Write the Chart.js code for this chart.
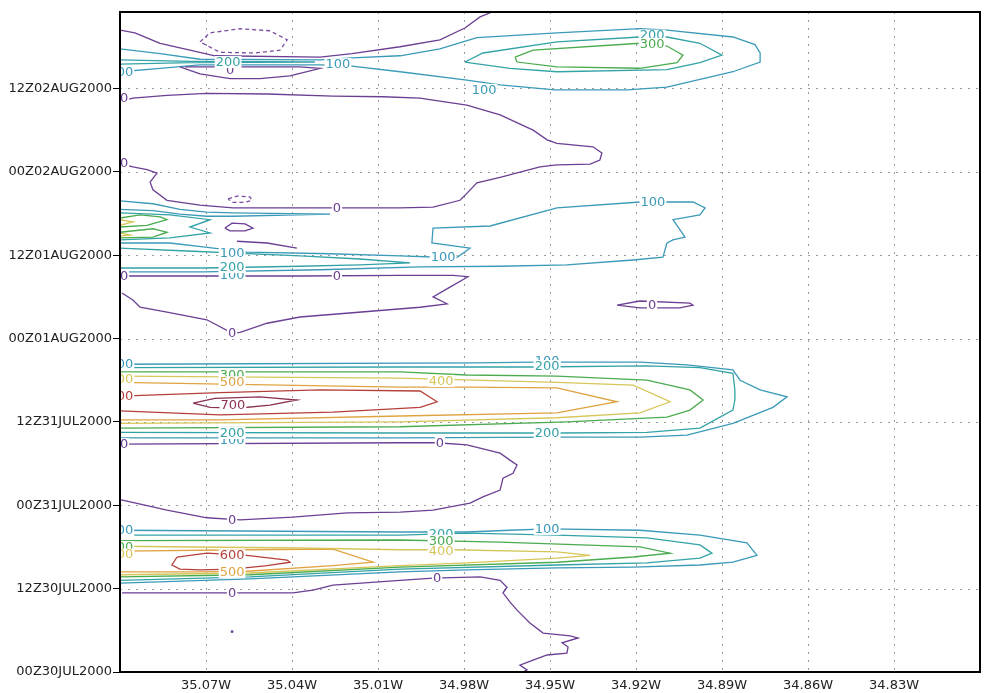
<!DOCTYPE html>
<html><head><meta charset="utf-8">
<script src="https://cdn.jsdelivr.net/npm/chart.js@4.4.1/dist/chart.umd.min.js"></script>
<style>html,body{margin:0;padding:0;background:#fff;} #wrap{width:984px;height:693px;}</style>
</head><body><div id="wrap"><canvas id="c" width="984" height="693"></canvas></div>
<script>
// Longitude in degrees west, time in hours after 00Z30JUL2000.
const lonTicks = [35.07,35.04,35.01,34.98,34.95,34.92,34.89,34.86,34.83];
const timeTicks = [0,12,24,36,48,60,72,84];
const timeLabels = ['00Z30JUL2000','12Z30JUL2000','00Z31JUL2000','12Z31JUL2000','00Z01AUG2000','12Z01AUG2000','00Z02AUG2000','12Z02AUG2000'];

// Contour polylines, [lonW, hour] pairs.
// 2 Aug, afternoon
const cTop0a = [[35.100,92.4],[35.0948,92.0],[35.0860,90.5],[35.0756,89.5],[35.0669,88.7],[35.0302,88.5],[35.0191,89.0],[35.0023,90.0],[34.9884,91.0],[34.9797,92.7],[34.9744,94.3],[34.9702,95.0]];
const cTop0b = [[35.0791,87.1],[35.0721,86.1],[35.0616,85.4],[35.0512,85.4],[35.0407,85.8],[35.0302,86.9],[35.0372,87.1],[35.0773,87.1]];
const cTopNeg = [[35.0721,90.7],[35.0686,92.0],[35.0581,92.6],[35.0477,92.3],[35.0417,91.0],[35.0442,89.5],[35.0529,89.1],[35.0651,89.2],[35.0721,90.7]];
const cTop100 = [[35.100,89.7],[35.0860,89.0],[35.0721,88.2],[35.0302,88.1],[35.0191,88.4],[35.0023,88.7],[34.9884,89.7],[34.9755,91.3],[34.9476,92.0],[34.9186,92.6],[34.9092,92.4],[34.8862,91.4],[34.8785,90.3],[34.8767,89.1],[34.8767,87.8],[34.8862,86.4],[34.9092,84.2],[34.9231,83.8],[34.9483,83.8],[34.9674,84.5],[34.9790,85.2],[35.0023,86.4],[35.0191,87.2],[35.0302,87.4],[35.0721,87.4],[35.0860,86.9],[35.100,86.4]];
const cTop200a = [[35.100,88.1],[35.0756,87.9],[35.0320,87.8],[35.0756,87.7],[35.100,87.5]];
const cTop200b = [[34.9797,87.8],[34.9734,89.1],[34.9476,90.7],[34.9186,91.4],[34.9092,91.4],[34.8977,90.5],[34.8900,88.8],[34.8977,87.7],[34.9092,86.7],[34.9476,86.4],[34.9640,86.9],[34.9797,87.8]];
const cTop300 = [[34.9622,88.5],[34.9559,89.5],[34.9186,90.5],[34.9092,90.1],[34.9036,88.8],[34.9057,87.7],[34.9186,86.9],[34.9476,87.1],[34.9615,87.8],[34.9622,88.5]];

// 1 Aug
const cMid0a = [[35.0993,82.2],[35.0955,82.6],[35.0836,83.0],[35.0697,83.3],[35.0487,83.2],[35.0257,82.9],[35.0083,82.8],[34.9953,82.6],[34.9908,82.3],[34.9790,81.6],[34.9674,80.2],[34.9559,78.0],[34.9510,76.6],[34.9476,76.1],[34.9350,75.6],[34.9319,74.7],[34.9326,73.7],[34.9360,73.1],[34.9476,73.0],[34.9535,72.7],[34.9674,71.2],[34.9755,70.4],[34.9790,68.9],[34.9814,67.9],[34.9908,66.9],[35.0023,66.8],[35.0606,66.8],[35.0721,67.2],[35.0836,67.9],[35.0885,69.4],[35.0895,70.5],[35.0871,71.8],[35.0906,72.3],[35.0955,72.7],[35.0993,73.1]];
const cMidNeg = [[35.0623,68.1],[35.0592,68.5],[35.0547,68.4],[35.0540,67.9],[35.0564,67.6],[35.0609,67.6],[35.0623,68.1]];
const cMid0b = [[35.0634,63.9],[35.0609,64.6],[35.0564,64.5],[35.0536,63.9],[35.0564,63.5],[35.0616,63.5],[35.0634,63.9]];
const cMid0c = [[35.0592,62.0],[35.0487,61.75],[35.0383,61.0]];
const cMid100a = [[35.100,67.8],[35.0885,67.4],[35.0791,66.6],[35.0697,66.2],[35.0606,66.1],[35.0267,65.9],[35.0606,65.6],[35.0697,65.6],[35.0791,65.9],[35.0885,66.4],[35.100,66.6]];
const cMid200a = [[35.100,66.1],[35.0826,65.8],[35.0686,65.1],[35.0756,64.05],[35.0686,63.2],[35.0826,62.5],[35.100,62.2]];
const cMid300a = [[35.100,65.35],[35.0930,65.8],[35.0860,65.5],[35.0836,65.1],[35.0906,64.3],[35.100,64.05]];
const cMid300b = [[35.100,63.3],[35.0885,63.8],[35.0836,63.3],[35.0885,62.6],[35.100,62.5]];
const cMid400a = [[35.100,65.1],[35.0955,64.8],[35.100,64.3]];
const cMid400b = [[35.100,63.2],[35.0965,62.9],[35.100,62.75]];
const cMid100b = [[35.100,61.75],[35.0826,61.75],[35.0710,61.2],[35.0557,60.45],[35.0267,60.2],[35.0023,59.9],[34.9884,59.7],[34.9824,59.7],[34.9779,61.0],[34.9912,61.75],[34.9908,63.9],[34.9709,64.2],[34.9476,66.8],[34.9186,67.65],[34.9001,67.65],[34.8959,66.8],[34.8977,65.8],[34.9071,65.1],[34.9029,62.6],[34.9071,62.2],[34.9092,61.75],[34.9106,59.7],[34.9210,59.3],[34.9441,58.6],[34.9674,58.4],[34.9953,58.3],[35.0302,57.9],[35.0710,57.6],[35.100,57.6]];
const cMid200b = [[35.100,61.0],[35.0766,60.6],[35.0372,59.9],[35.0163,59.45],[34.9988,58.9],[35.0163,58.6],[35.0372,58.4],[35.0710,58.15],[35.100,58.15]];
const cMid0d = [[35.100,57.0],[35.0372,57.0],[35.0023,57.1],[34.9838,57.1],[34.9786,56.9],[34.9849,55.4],[34.9908,54.0],[34.9859,53.0],[34.9953,52.5],[35.0372,51.1],[35.0487,50.2],[35.0581,48.9],[35.0609,48.8],[35.0697,50.7],[35.0836,51.8],[35.0930,52.5],[35.0955,53.55],[35.0993,54.55]];
const cMid0e = [[34.9266,52.8],[34.9186,53.4],[34.9012,53.1],[34.9001,52.8],[34.9047,52.4],[34.9186,52.4],[34.9266,52.8]];

// 31 Jul
const cB1_100 = [[35.100,44.3],[34.9755,44.5],[34.9559,44.6],[34.9186,44.6],[34.9022,44.2],[34.8862,43.5],[34.8837,42.0],[34.8767,40.6],[34.8673,39.6],[34.8722,38.1],[34.8862,35.8],[34.9022,34.1],[34.9186,33.8],[34.9465,33.8],[35.0023,33.7],[35.100,33.7]];
const cB1_200 = [[35.100,43.8],[35.0023,43.9],[34.9559,43.9],[34.9162,44.05],[34.8977,43.8],[34.8862,43.0],[34.8855,40.6],[34.8855,39.15],[34.8862,37.7],[34.8977,35.1],[34.9162,34.5],[34.9465,34.4],[35.0023,34.4],[35.100,34.5]];
const cB1_300 = [[35.100,43.2],[35.0023,43.2],[34.9790,42.75],[34.9476,42.6],[34.9162,42.0],[34.9012,40.6],[34.8966,39.15],[34.9012,37.7],[34.9092,36.7],[34.9441,36.0],[35.0023,35.3],[35.100,35.1]];
const cB1_400 = [[35.100,42.6],[35.0023,42.3],[34.9476,41.7],[34.9210,41.3],[34.9081,38.9],[34.9186,37.3],[34.9476,36.6],[35.0023,36.0],[35.100,35.8]];
const cB1_500 = [[35.100,41.7],[35.0023,41.0],[34.9790,41.0],[34.9476,40.9],[34.9266,38.9],[34.9476,37.3],[35.0023,36.85],[35.0651,36.3],[35.100,36.3]];
const cB1_600 = [[35.100,39.7],[35.0651,40.2],[35.0302,40.6],[34.9953,40.45],[34.9894,38.9],[34.9953,38.1],[35.0257,37.4],[35.0651,37.0],[35.100,37.6]];
const cB1_700 = [[35.0745,38.7],[35.0669,39.4],[35.0512,39.6],[35.0383,39.15],[35.0477,38.4],[35.0581,38.0],[35.0686,38.1],[35.0745,38.7]];
const cB1_0 = [[35.100,32.8],[35.0023,33.0],[34.9894,33.0],[34.9790,32.7],[34.9674,31.5],[34.9640,30.5],[34.9615,29.8],[34.9629,28.6],[34.9664,27.9],[34.9674,26.2],[34.9734,25.2],[34.9779,24.3],[34.9908,23.3],[35.0023,23.0],[35.0208,22.9],[35.0397,22.3],[35.0581,21.9],[35.0697,22.2],[35.0836,23.3],[35.0976,24.6],[35.100,24.8]];

// 30 Jul
const cB2_100 = [[35.100,20.4],[35.0023,20.15],[34.9790,20.15],[34.9640,20.4],[34.9510,20.6],[34.9186,20.4],[34.8977,19.7],[34.8813,18.6],[34.8778,16.8],[34.8862,15.8],[34.8977,15.4],[34.9210,15.1],[34.9476,15.0],[34.9790,14.7],[35.0023,14.4],[35.0547,13.4],[35.100,12.8]];
const cB2_200 = [[35.100,19.7],[35.0023,19.7],[34.9790,20.0],[34.9476,19.7],[34.9162,19.3],[34.8977,18.3],[34.8935,17.1],[34.8977,16.4],[34.9162,15.7],[34.9476,15.4],[35.0023,14.8],[35.0547,13.7],[35.100,13.2]];
const cB2_300 = [[35.100,18.9],[35.0023,19.0],[34.9674,18.7],[34.9186,18.0],[34.9081,17.1],[34.9210,16.55],[34.9476,15.8],[35.0023,15.1],[35.0547,14.0],[35.100,13.7]];
const cB2_400 = [[35.100,18.1],[35.0372,17.85],[35.0023,17.6],[34.9838,17.6],[34.9476,17.3],[34.9360,16.8],[34.9476,16.4],[34.9790,15.7],[35.0023,15.3],[35.0547,14.25],[35.100,14.0]];
const cB2_500 = [[35.100,17.4],[35.0547,17.6],[35.0257,17.7],[35.0117,15.8],[35.0257,15.3],[35.0557,14.5],[35.0721,14.4],[35.100,14.4]];
const cB2_600 = [[35.0801,16.55],[35.0697,17.1],[35.0557,16.8],[35.0417,16.1],[35.0407,15.8],[35.0487,15.3],[35.0606,14.8],[35.0721,14.7],[35.0791,14.8],[35.0819,15.4],[35.0801,16.55]];
const cB2_0 = [[35.0993,11.4],[35.0397,11.4],[35.0327,11.8],[35.0257,12.5],[35.0023,13.2],[34.9908,13.5],[34.9744,13.7],[34.9674,13.2],[34.9650,12.2],[34.9664,11.4],[34.9640,10.1],[34.9615,8.9],[34.9570,7.05],[34.9524,5.6],[34.9430,5.2],[34.9402,4.9],[34.9458,4.2],[34.9437,3.6],[34.9441,2.7],[34.9510,2.45],[34.9559,1.7],[34.9605,1.0],[34.9580,0.3],[34.9594,0.0]];
const speck = [[35.0609,5.8]];

// Contour labels: [lonW, hour, level]; later entries are drawn over earlier ones.
const contourLabels = [
  [35.0997,86.4,100],[35.0616,86.65,0],[35.0623,87.8,200],[35.0240,87.5,100],
  [34.9144,91.6,200],[34.9144,90.4,300],[34.9730,83.8,100],[35.0986,82.6,0],
  [35.0986,73.3,0],[35.0243,66.8,0],[35.0609,60.3,100],[35.0609,57.1,100],[35.0609,58.3,200],
  [34.9873,59.7,100],[34.9141,67.65,100],[35.0986,57.0,0],[35.0243,57.0,0],[35.0609,48.8,0],[34.9144,52.8,0],
  [35.0997,44.3,100],[35.0609,42.75,300],[35.0609,41.7,500],[35.0997,42.2,400],[35.0997,39.7,600],
  [35.0606,38.4,700],[35.0609,33.4,100],[35.0609,34.4,200],[35.0986,32.8,0],[34.9884,33.0,0],
  [34.9880,41.9,400],[34.9510,44.8,100],[34.9510,44.05,200],[34.9510,34.4,200],
  [35.0609,21.9,0],[35.0997,20.4,100],[35.0997,18.0,300],[35.0997,16.9,400],
  [35.0609,16.8,600],[35.0609,14.4,500],[35.0609,11.4,0],[34.9510,20.6,100],
  [34.9880,19.9,200],[34.9880,18.9,300],[34.9880,17.4,400],[34.9894,13.5,0]
];

const contours = [
  [0,cTop0a],[0,cTop0b],[-100,cTopNeg],[100,cTop100],[200,cTop200a],[200,cTop200b],[300,cTop300],
  [0,cMid0a],[-100,cMidNeg],[0,cMid0b],[0,cMid0c],[100,cMid100a],[200,cMid200a],[300,cMid300a],[300,cMid300b],
  [400,cMid400a],[400,cMid400b],[100,cMid100b],[200,cMid200b],[0,cMid0d],[0,cMid0e],
  [100,cB1_100],[200,cB1_200],[300,cB1_300],[400,cB1_400],[500,cB1_500],[600,cB1_600],[700,cB1_700],[0,cB1_0],
  [100,cB2_100],[200,cB2_200],[300,cB2_300],[400,cB2_400],[500,cB2_500],[600,cB2_600],[0,cB2_0]
];

const levelColor = {'-100':'#7a4b9e','0':'#6b3f93','100':'#3a9ab8','200':'#33a3a6','300':'#4bab4f',
  '400':'#d6c65a','500':'#e0a341','600':'#b5403b','700':'#8b3155'};

const datasets = contours.map(([lev, pts]) => ({
  data: pts.map(p => ({x:p[0], y:p[1]})),
  showLine: true, pointRadius: 0, borderWidth: 1.3, tension: 0, fill: false,
  borderColor: levelColor[String(lev)], borderDash: lev < 0 ? [4,3] : []
}));
datasets.push({data: speck.map(p => ({x:p[0], y:p[1]})), showLine:false, pointRadius:1.4,
  pointBackgroundColor: levelColor['0'], pointBorderWidth:0});

const gridPlugin = {
  id: 'dottedGrid',
  beforeDatasetsDraw(chart) {
    const {ctx, chartArea: a, scales: {x, y}} = chart;
    ctx.save();
    ctx.strokeStyle = '#9c9c9c'; ctx.lineWidth = 1; ctx.setLineDash([2,6]);
    lonTicks.forEach(v => { const px = Math.round(x.getPixelForValue(v)) + 0.5;
      ctx.beginPath(); ctx.moveTo(px, a.top); ctx.lineTo(px, a.bottom); ctx.stroke(); });
    timeTicks.forEach(v => { if (v === 0) return; const py = Math.round(y.getPixelForValue(v)) + 0.5;
      ctx.beginPath(); ctx.moveTo(a.left, py); ctx.lineTo(a.right, py); ctx.stroke(); });
    ctx.restore();
  }
};

const labelPlugin = {
  id: 'contourLabels',
  afterDatasetsDraw(chart) {
    const {ctx, chartArea: a, scales: {x, y}} = chart;
    ctx.save();
    ctx.beginPath(); ctx.rect(a.left, a.top, a.right - a.left, a.bottom - a.top); ctx.clip();
    ctx.font = '13px "DejaVu Sans"'; ctx.textAlign = 'center'; ctx.textBaseline = 'middle';
    contourLabels.forEach(([lon, h, lev]) => {
      const px = x.getPixelForValue(lon), py = y.getPixelForValue(h);
      const t = String(lev), w = ctx.measureText(t).width;
      ctx.fillStyle = '#fff'; ctx.fillRect(px - w/2 - 1, py - 6, w + 2, 12);
      ctx.fillStyle = levelColor[t]; ctx.fillText(t, px, py + 0.5);
    });
    ctx.restore();
  },
  afterDraw(chart) {
    const {ctx, chartArea: a} = chart;
    ctx.save(); ctx.strokeStyle = '#000'; ctx.lineWidth = 2;
    ctx.strokeRect(a.left, a.top, a.right - a.left, a.bottom - a.top);
    ctx.restore();
  }
};

Chart.defaults.font.family = '"DejaVu Sans", sans-serif';
Chart.defaults.font.size = 13;
Chart.defaults.color = '#222';

new Chart(document.getElementById('c'), {
  type: 'scatter',
  data: { datasets },
  options: {
    responsive: false, animation: false, events: [],
    layout: { padding: { top: 12, right: 4, left: 0, bottom: 0 } },
    plugins: { legend: { display: false }, tooltip: { enabled: false } },
    scales: {
      x: {
        type: 'linear', reverse: true, min: 34.80, max: 35.10,
        afterBuildTicks: s => { s.ticks = lonTicks.map(v => ({value: v})); },
        afterFit: s => { s.height = 21; },
        ticks: { padding: 6, maxRotation: 0, autoSkip: false, callback: v => v.toFixed(2) + 'W' },
        grid: { display: false, drawTicks: false }, border: { display: false }
      },
      y: {
        type: 'linear', min: 0, max: 95,
        afterBuildTicks: s => { s.ticks = timeTicks.map(v => ({value: v})); },
        afterFit: s => { s.width = 120; },
        ticks: { padding: 1, autoSkip: false, callback: v => timeLabels[timeTicks.indexOf(v)] },
        grid: { display: true, drawOnChartArea: false, drawTicks: true, tickLength: 7, tickColor: '#000', tickWidth: 1 },
        border: { display: false }
      }
    }
  },
  plugins: [gridPlugin, labelPlugin]
});
</script>
</body></html>
